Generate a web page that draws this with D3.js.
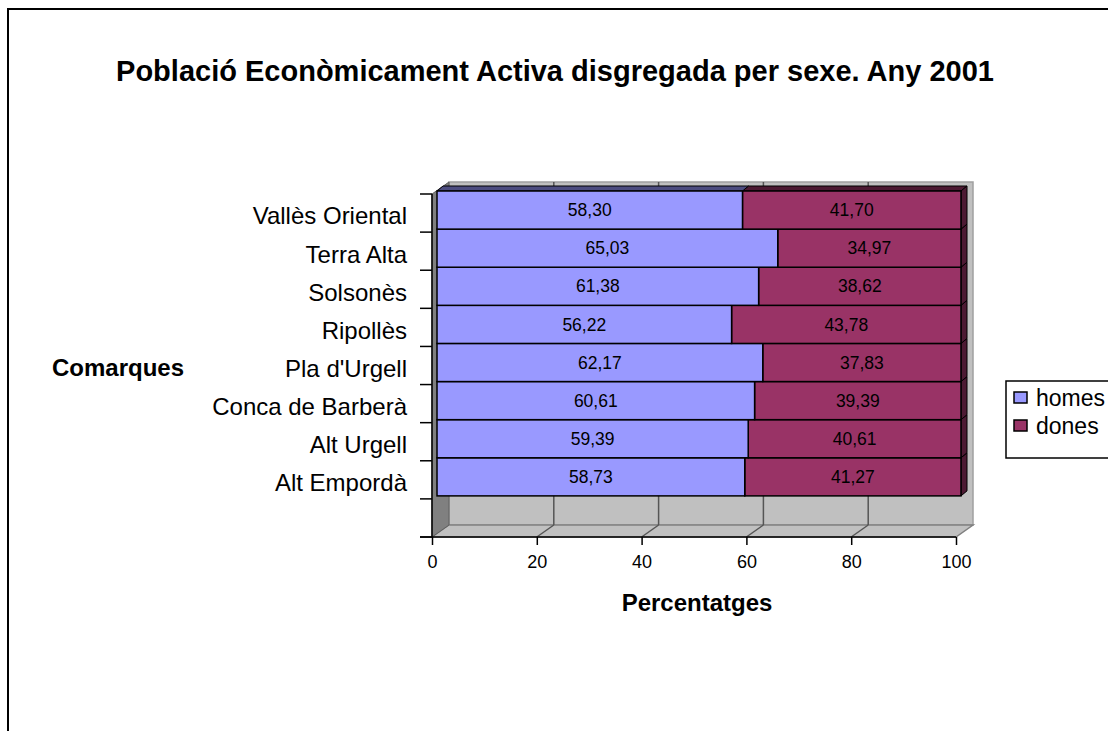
<!DOCTYPE html>
<html>
<head>
<meta charset="utf-8">
<script src="https://cdn.jsdelivr.net/npm/d3@7"></script>
<style>
  body { margin: 0; background: #fff; }
  text { font-family: Arial, "Liberation Sans", sans-serif; }
</style>
</head>
<body>
<div class="chart"></div>
<script>
// data
var categories = ["Vallès Oriental", "Terra Alta", "Solsonès", "Ripollès", "Pla d'Urgell", "Conca de Barberà", "Alt Urgell", "Alt Empordà"];
var homes = [58.30, 65.03, 61.38, 56.22, 62.17, 60.61, 59.39, 58.73];
var dones = [41.70, 34.97, 38.62, 43.78, 37.83, 39.39, 40.61, 41.27];
var seriesNames = ["homes", "dones"];
var xTicks = [0, 20, 40, 60, 80, 100];

var colors = { homes: "#9999ff", dones: "#993366" };
var topColors = { homes: "#4d4d80", dones: "#4d1a33" };

var svg = d3.select(".chart").append("svg")
    .attr("width", 1108)
    .attr("height", 731);

// outer frame
svg.append("rect")
    .attr("x", 8).attr("y", 9)
    .attr("width", 1200).attr("height", 800)
    .attr("fill", "#fff")
    .attr("stroke", "#000")
    .attr("stroke-width", 2);

// title
svg.append("text")
    .attr("x", 555).attr("y", 81)
    .attr("text-anchor", "middle")
    .style("font-weight", "bold")
    .style("font-size", "29px")
    .text("Població Econòmicament Activa disgregada per sexe. Any 2001");

// scales (front plane)
var x = d3.scaleLinear().domain([0, 100]).range([432, 956]);
var slots = categories.concat([""]);   // one empty slot under the last bar
var y = d3.scaleBand().domain(slots).range([194, 537]).paddingInner(0).paddingOuter(0);

var depth = { dx: 17, dy: -12 };      // wall depth
var barOff = { dx: 5, dy: -3 };       // bar front face shift
var barDepth = { dx: 6, dy: -5 };     // bar thickness

var x0 = x.range()[0], x1 = x.range()[1];
var yTop = y.range()[0], yBot = y.range()[1];

// back wall
svg.append("rect")
    .attr("x", x0 + depth.dx).attr("y", yTop + depth.dy)
    .attr("width", x1 - x0).attr("height", yBot - yTop)
    .attr("fill", "#c0c0c0")
    .attr("stroke", "#a0a0a0")
    .attr("stroke-width", 1.5);

// floor
svg.append("polygon")
    .attr("points", [[x0, yBot], [x0 + depth.dx, yBot + depth.dy], [x1 + depth.dx, yBot + depth.dy], [x1, yBot]].join(" "))
    .attr("fill", "#c0c0c0")
    .attr("stroke", "#808080")
    .attr("stroke-width", 1.5);

// gridlines on wall and floor
xTicks.slice(1, -1).forEach(function(t){
    svg.append("line")
        .attr("x1", x(t) + depth.dx).attr("x2", x(t) + depth.dx)
        .attr("y1", yTop + depth.dy).attr("y2", yBot + depth.dy)
        .attr("stroke", "#555").attr("stroke-width", 1.5);
    svg.append("line")
        .attr("x1", x(t)).attr("x2", x(t) + depth.dx)
        .attr("y1", yBot).attr("y2", yBot + depth.dy)
        .attr("stroke", "#555").attr("stroke-width", 1.5);
});

// left wall
svg.append("polygon")
    .attr("points", [[x0, yTop], [x0 + depth.dx, yTop + depth.dy], [x0 + depth.dx, yBot + depth.dy], [x0, yBot]].join(" "))
    .attr("fill", "#808080")
    .attr("stroke", "#606060")
    .attr("stroke-width", 1);

// stacked segments
var segs = [];
categories.forEach(function(c, i){
    segs.push({ cat: c, key: "homes", start: 0, end: homes[i], value: homes[i] });
    segs.push({ cat: c, key: "dones", start: homes[i], end: homes[i] + dones[i], value: dones[i] });
});
// draw from the bottom bar upward so top faces hide correctly
segs.reverse();

var fmt = function(v){ return d3.format(".2f")(v).replace(".", ","); };

var g = svg.append("g");
segs.forEach(function(d){
    var bx = x(d.start) + barOff.dx;
    var bw = x(d.end) - x(d.start);
    var by = y(d.cat) + barOff.dy;
    var bh = y.bandwidth();

    // top face
    g.append("polygon")
        .attr("points", [[bx, by], [bx + barDepth.dx, by + barDepth.dy], [bx + bw + barDepth.dx, by + barDepth.dy], [bx + bw, by]].join(" "))
        .attr("fill", topColors[d.key])
        .attr("stroke", "#000").attr("stroke-width", 1);

    // right side face
    if (d.key === "dones") {
        g.append("polygon")
            .attr("points", [[bx + bw, by], [bx + bw + barDepth.dx, by + barDepth.dy], [bx + bw + barDepth.dx, by + bh + barDepth.dy], [bx + bw, by + bh]].join(" "))
            .attr("fill", topColors[d.key])
            .attr("stroke", "#000").attr("stroke-width", 1);
    }

    // front face
    g.append("rect")
        .attr("x", bx).attr("y", by)
        .attr("width", bw).attr("height", bh)
        .attr("fill", colors[d.key])
        .attr("stroke", "#000").attr("stroke-width", 1.5);

    g.append("text")
        .attr("x", bx + bw / 2)
        .attr("y", by + bh / 2)
        .attr("dy", "0.35em")
        .attr("text-anchor", "middle")
        .style("font-size", "17.5px")
        .text(fmt(d.value));
});

// category axis (front edge)
svg.append("line")
    .attr("x1", x0).attr("x2", x0)
    .attr("y1", yTop).attr("y2", yBot)
    .attr("stroke", "#000").attr("stroke-width", 1.5);

d3.range(slots.length + 1).forEach(function(i){
    var ty = yTop + i * y.step();
    svg.append("line")
        .attr("x1", x0 - 12).attr("x2", x0)
        .attr("y1", ty).attr("y2", ty)
        .attr("stroke", "#000").attr("stroke-width", 1.5);
});

svg.selectAll(".catLabel")
    .data(categories)
    .enter().append("text")
    .attr("class", "catLabel")
    .attr("x", 407)
    .attr("y", function(d){ return y(d) + y.bandwidth() / 2 + 3; })
    .attr("dy", "0.35em")
    .attr("text-anchor", "end")
    .style("font-size", "24px")
    .text(function(d){ return d; });

// value axis
var xAxis = svg.append("g")
    .attr("transform", "translate(0," + yBot + ")")
    .call(d3.axisBottom(x).tickValues(xTicks).tickSize(8).tickSizeOuter(0).tickPadding(10));
xAxis.select(".domain").attr("stroke", "#000").attr("stroke-width", 1.5)
    .attr("d", "M" + (x0 - 12) + ",0H" + x1);
xAxis.selectAll(".tick line").attr("stroke", "#000").attr("stroke-width", 1.5);
xAxis.selectAll(".tick text")
    .style("font-family", "Arial, 'Liberation Sans', sans-serif")
    .style("font-size", "18px")
    .attr("fill", "#000");

// axis titles
svg.append("text")
    .attr("x", 52).attr("y", 368)
    .attr("dy", "0.35em")
    .style("font-weight", "bold")
    .style("font-size", "24px")
    .text("Comarques");

svg.append("text")
    .attr("x", 697).attr("y", 603)
    .attr("dy", "0.35em")
    .attr("text-anchor", "middle")
    .style("font-weight", "bold")
    .style("font-size", "24px")
    .text("Percentatges");

// legend
var legend = svg.append("g");
legend.append("rect")
    .attr("x", 1006).attr("y", 381)
    .attr("width", 140).attr("height", 77)
    .attr("fill", "#fff")
    .attr("stroke", "#000").attr("stroke-width", 1.5);

seriesNames.forEach(function(s, i){
    legend.append("rect")
        .attr("x", 1014).attr("y", 392 + i * 28)
        .attr("width", 13).attr("height", 11)
        .attr("fill", colors[s])
        .attr("stroke", "#000").attr("stroke-width", 1.5);
    legend.append("text")
        .attr("x", 1036).attr("y", 398 + i * 28)
        .attr("dy", "0.35em")
        .style("font-size", "23px")
        .text(s);
});
</script>
</body>
</html>
